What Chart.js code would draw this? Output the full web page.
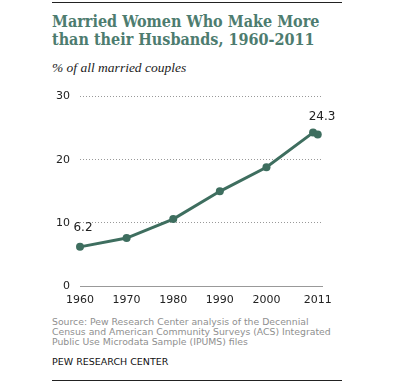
<!DOCTYPE html>
<html>
<head>
<meta charset="utf-8">
<script src="https://cdn.jsdelivr.net/npm/chart.js@4"></script>
<style>
  html, body { margin:0; padding:0; background:#fff; }
  #wrap { position:relative; width:395px; height:386px; overflow:hidden; }
  .rule { position:absolute; left:52px; width:290px; height:1px; background:#222; }
  #title { position:absolute; left:52px; top:13px; font:bold 16px "DejaVu Serif Condensed", "DejaVu Serif", serif; line-height:18px; color:#4d7c6f; white-space:nowrap; }
  #sub { position:absolute; left:52px; top:60px; font:italic 13.5px "Liberation Serif", serif; color:#222; white-space:nowrap; }
  #src { position:absolute; left:52px; top:317px; font:9.3px "DejaVu Sans", sans-serif; line-height:10.2px; color:#8f8f8f; white-space:nowrap; }
  #pew { position:absolute; left:52px; top:356px; font:9.5px "DejaVu Sans", sans-serif; color:#111; white-space:nowrap; }
  #box { position:absolute; left:40px; top:80px; width:300px; height:230px; }
</style>
</head>
<body>
<div id="wrap">
  <div class="rule" style="top:2px"></div>
  <div id="title">Married Women Who Make More<br>than their Husbands, 1960-2011</div>
  <div id="sub">% of all married couples</div>
  <div id="box"><canvas id="chart"></canvas></div>
  <div id="src">Source: Pew Research Center analysis of the Decennial<br>Census and American Community Surveys (ACS) Integrated<br>Public Use Microdata Sample (IPUMS) files</div>
  <div id="pew">PEW RESEARCH CENTER</div>
  <div class="rule" style="top:380px"></div>
</div>
<script>
const years  = [1960, 1970, 1980, 1990, 2000, 2010, 2011];
const shares = [6.2, 7.6, 10.6, 15.0, 18.8, 24.3, 24.0];
const xTicks = [1960, 1970, 1980, 1990, 2000, 2011];
const yTicks = [0, 10, 20, 30];
const labelled = { 0: "6.2", 5: "24.3" };

const GREEN = "#3e6e5f";

const pointLabels = {
  id: "pointLabels",
  afterDatasetsDraw(c) {
    const ctx = c.ctx;
    const meta = c.getDatasetMeta(0);
    ctx.save();
    ctx.font = "12px 'DejaVu Sans', sans-serif";
    ctx.fillStyle = "#222";
    ctx.textAlign = "center";
    ctx.textBaseline = "middle";
    Object.keys(labelled).forEach(i => {
      const p = meta.data[i];
      const dx = i == 0 ? 3 : 9;
      const dy = i == 0 ? -19 : -16;
      ctx.fillText(labelled[i], p.x + dx, p.y + dy);
    });
    ctx.restore();
  }
};

new Chart(document.getElementById("chart"), {
  type: "line",
  data: {
    datasets: [{
      data: years.map((y, i) => ({ x: y, y: shares[i] })),
      borderColor: GREEN,
      backgroundColor: GREEN,
      borderWidth: 3,
      pointRadius: 4,
      pointBorderWidth: 0,
      tension: 0,
      clip: false
    }]
  },
  options: {
    responsive: true,
    maintainAspectRatio: false,
    animation: false,
    layout: { padding: { top: 16, right: 14, left: 0, bottom: 0 } },
    plugins: { legend: { display: false }, tooltip: { enabled: false } },
    scales: {
      x: {
        type: "linear",
        min: 1960,
        max: 2012,
        afterBuildTicks: s => { s.ticks = xTicks.map(v => ({ value: v })); },
        afterFit: s => { s.height = 24; },
        grid: { display: false, drawTicks: false },
        border: { display: true, color: "#999", width: 1 },
        ticks: { padding: 8, color: "#222", font: { family: "DejaVu Sans", size: 11 }, callback: v => String(v) }
      },
      y: {
        min: 0,
        max: 30,
        afterBuildTicks: s => { s.ticks = yTicks.map(v => ({ value: v })); },
        afterFit: s => { s.width = 40; },
        grid: { color: "#999", drawTicks: false, lineWidth: 1 },
        border: { display: false, dash: [1, 2] },
        ticks: { padding: 10, color: "#222", font: { family: "DejaVu Sans", size: 11 } }
      }
    }
  },
  plugins: [pointLabels]
});
</script>
</body>
</html>
